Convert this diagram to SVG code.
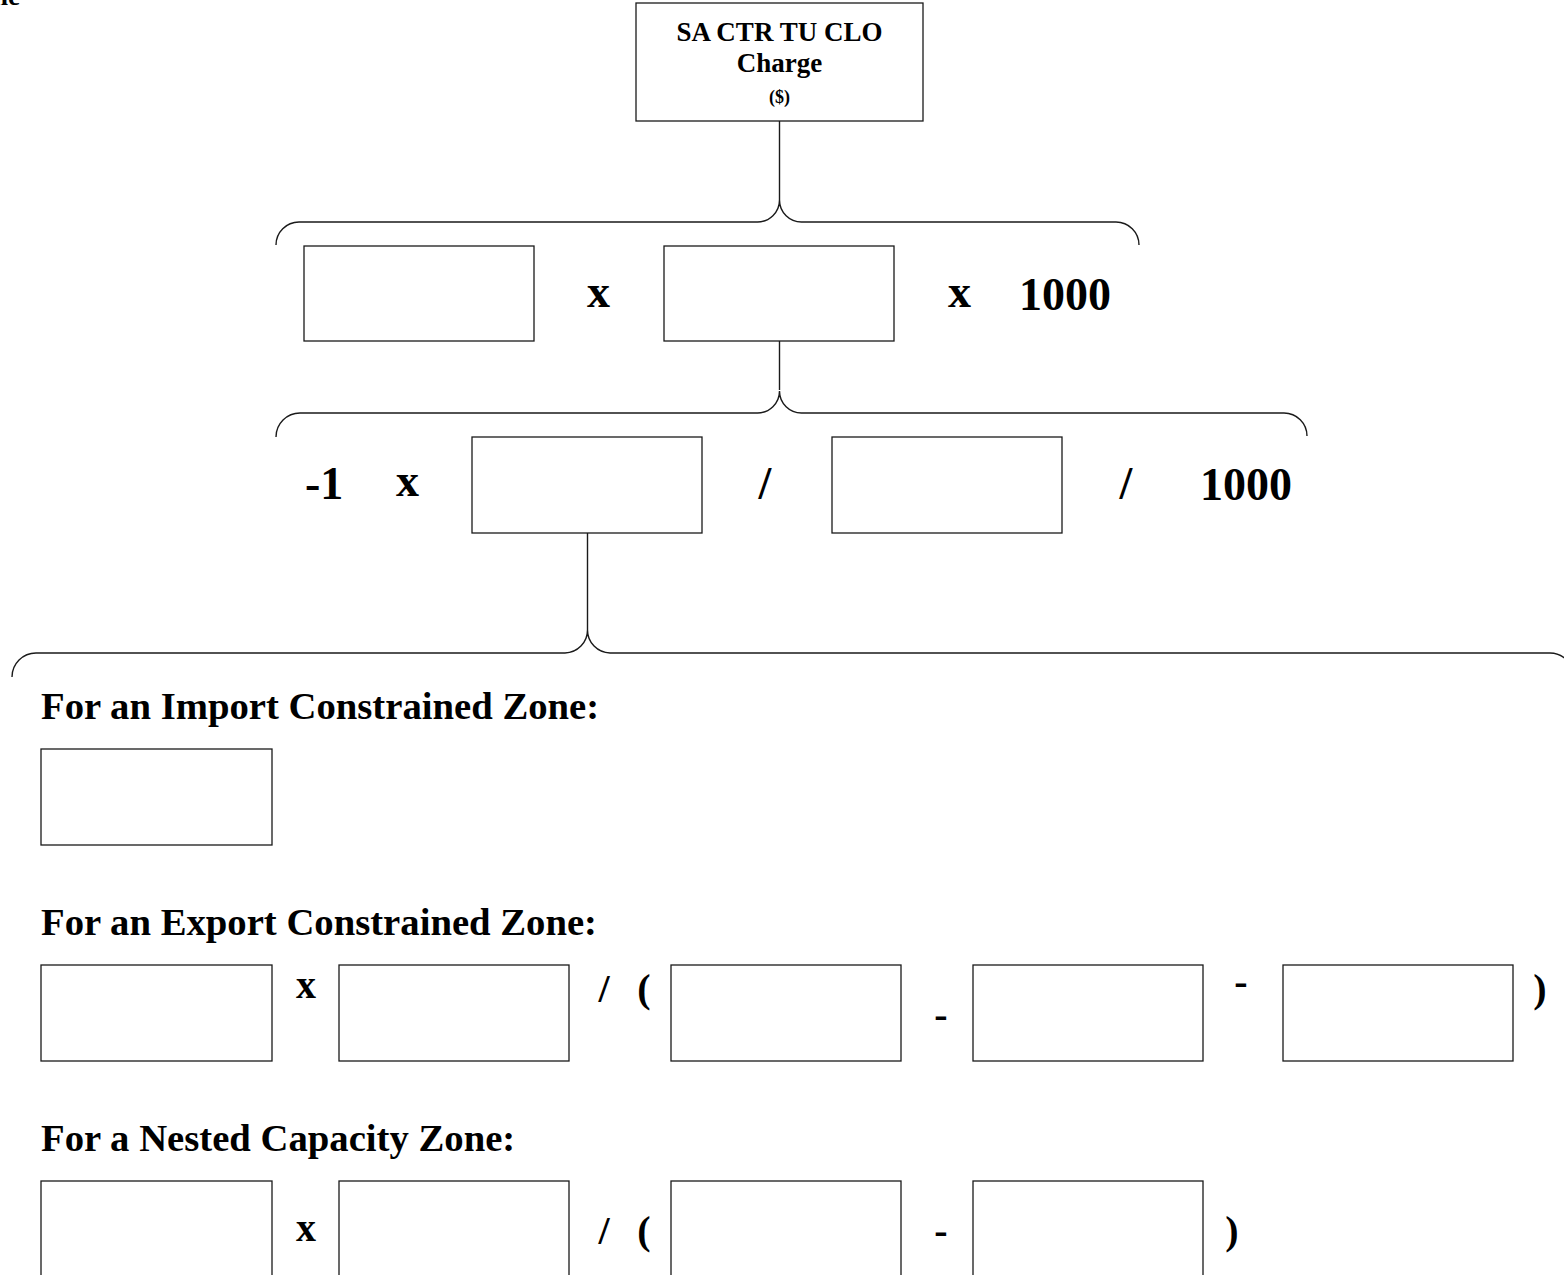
<svg xmlns="http://www.w3.org/2000/svg" width="1564" height="1275" viewBox="0 0 1564 1275">
<style>
  .bx{fill:#fff;stroke:#1a1a1a;stroke-width:1.3}
  .br{fill:none;stroke:#1a1a1a;stroke-width:1.4}
  text{font-family:"Liberation Serif","Times New Roman",serif;font-weight:bold;fill:#000}
  .op{font-size:46px}
  .op2{font-size:40px}
  .hd{font-size:38.7px}
  .t1{font-size:27px}
  .t2{font-size:18px}
</style>
<rect width="1564" height="1275" fill="#fff"/>
<text x="-7" y="5" font-size="27">ne</text>
<g id="connectors">
  <line class="br" x1="779.5" y1="121" x2="779.5" y2="200"/>
  <path class="br" d="M276,245 A23,23 0 0 1 299,222 L757,222 A22,22 0 0 0 779.5,200 A22,22 0 0 0 802,222 L1116,222 A23,23 0 0 1 1139,245"/>
  <line class="br" x1="779.5" y1="341" x2="779.5" y2="390"/>
  <path class="br" d="M276,437 A24,24 0 0 1 300,413 L757,413 A22,22 0 0 0 779.5,391 A22,22 0 0 0 802,413 L1284,413 A23,23 0 0 1 1307,436"/>
  <line class="br" x1="587.5" y1="533" x2="587.5" y2="630"/>
  <path class="br" d="M12,677 A24,24 0 0 1 36,653 L565,653 A23,23 0 0 0 587.5,630 A23,23 0 0 0 610,653 L1550,653 A23,23 0 0 1 1573,676"/>
</g>
<g id="charge">
  <rect class="bx" x="636" y="3" width="287" height="118"/>
  <text class="t1" x="779.5" y="41" text-anchor="middle">SA CTR TU CLO</text>
  <text class="t1" x="779.5" y="72" text-anchor="middle">Charge</text>
  <text class="t2" x="779.5" y="103" text-anchor="middle">($)</text>
</g>
<g id="row1">
  <rect id="r1b1" class="bx" x="304" y="246" width="230" height="95"/>
  <text class="op" x="598.5" y="307" text-anchor="middle">x</text>
  <rect id="r1b2" class="bx" x="664" y="246" width="230" height="95"/>
  <text class="op" x="959.5" y="307" text-anchor="middle">x</text>
  <text class="op" x="1019" y="310">1000</text>
</g>
<g id="row2">
  <text class="op" x="305" y="499">-1</text>
  <text class="op" x="407.5" y="496" text-anchor="middle">x</text>
  <rect id="r2b1" class="bx" x="472" y="437" width="230" height="96"/>
  <text class="op" x="765" y="499" text-anchor="middle">/</text>
  <rect id="r2b2" class="bx" x="832" y="437" width="230" height="96"/>
  <text class="op" x="1126" y="499" text-anchor="middle">/</text>
  <text class="op" x="1200" y="500">1000</text>
</g>
<g id="import">
  <text class="hd" x="41" y="719">For an Import Constrained Zone:</text>
  <rect class="bx" x="41" y="749" width="231" height="96"/>
</g>
<g id="export">
  <text class="hd" x="41" y="935">For an Export Constrained Zone:</text>
  <rect class="bx" x="41" y="965" width="231" height="96"/>
  <text class="op2" x="306" y="998" text-anchor="middle">x</text>
  <rect class="bx" x="339" y="965" width="230" height="96"/>
  <text class="op2" x="604" y="1002" text-anchor="middle">/</text>
  <text class="op2" x="644" y="1002" text-anchor="middle">(</text>
  <rect class="bx" x="671" y="965" width="230" height="96"/>
  <text class="op2" x="941" y="1028" text-anchor="middle">-</text>
  <rect class="bx" x="973" y="965" width="230" height="96"/>
  <text class="op2" x="1241" y="995" text-anchor="middle">-</text>
  <rect class="bx" x="1283" y="965" width="230" height="96"/>
  <text class="op2" x="1540" y="1002" text-anchor="middle">)</text>
</g>
<g id="nested">
  <text class="hd" x="41" y="1151">For a Nested Capacity Zone:</text>
  <rect class="bx" x="41" y="1181" width="231" height="96"/>
  <text class="op2" x="306" y="1241" text-anchor="middle">x</text>
  <rect class="bx" x="339" y="1181" width="230" height="96"/>
  <text class="op2" x="604" y="1244" text-anchor="middle">/</text>
  <text class="op2" x="644" y="1244" text-anchor="middle">(</text>
  <rect class="bx" x="671" y="1181" width="230" height="96"/>
  <text class="op2" x="941" y="1244" text-anchor="middle">-</text>
  <rect class="bx" x="973" y="1181" width="230" height="96"/>
  <text class="op2" x="1232" y="1244" text-anchor="middle">)</text>
</g>
</svg>
